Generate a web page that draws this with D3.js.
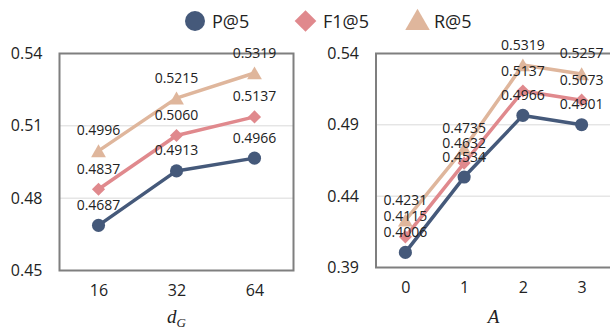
<!DOCTYPE html>
<html>
<head>
<meta charset="utf-8">
<script src="https://cdn.jsdelivr.net/npm/d3@7"></script>
<style>
  html, body { margin: 0; padding: 0; background: #fff; }
  svg { display: block; }
  text { font-family: "Open Sans", "Noto Sans", sans-serif; fill: #222; }
</style>
</head>
<body>
<svg id="chart" width="610" height="331"></svg>
<script>
// ---- data ----
const seriesNames = ["P@5", "F1@5", "R@5"];
const seriesColors = ["#45597a", "#e0898d", "#dfb69c"];

const leftCategories = ["16", "32", "64"];
const leftP  = [0.4687, 0.4913, 0.4966];
const leftF1 = [0.4837, 0.5060, 0.5137];
const leftR  = [0.4996, 0.5215, 0.5319];
const leftTicks = [0.45, 0.48, 0.51, 0.54];

const rightCategories = ["0", "1", "2", "3"];
const rightP  = [0.4006, 0.4534, 0.4966, 0.4901];
const rightF1 = [0.4115, 0.4632, 0.5137, 0.5073];
const rightR  = [0.4231, 0.4735, 0.5319, 0.5257];
const rightTicks = [0.39, 0.44, 0.49, 0.54];

const svg = d3.select("#chart");

function symbolFor(i, size) {
  const types = [d3.symbolCircle, d3.symbolDiamond2 || d3.symbolDiamond, d3.symbolTriangle];
  return d3.symbol().type(types[i]).size(size)();
}

function drawPanel(opts) {
  const { left, right, top, bottom, cats, series, ticks, titleMain, titleSub, clipRight } = opts;
  const g = svg.append("g");
  const x = d3.scalePoint().domain(cats).range([left, right]).padding(0.5);
  const y = d3.scaleLinear().domain([ticks[0], ticks[ticks.length - 1]]).range([bottom, top]);

  // gridlines
  g.append("g").selectAll("line").data(ticks.slice(1, -1)).join("line")
    .attr("x1", left).attr("x2", right)
    .attr("y1", d => y(d)).attr("y2", d => y(d))
    .attr("stroke", "#d9d9d9").attr("stroke-width", 1);

  // box
  g.append("rect")
    .attr("x", left).attr("y", top)
    .attr("width", (clipRight ? right + 4 : right) - left).attr("height", bottom - top)
    .attr("fill", "none").attr("stroke", "#7f7f7f").attr("stroke-width", 2);

  // y axis labels
  const yAxis = d3.axisLeft(y).tickValues(ticks).tickFormat(d3.format(".2f")).tickSize(0).tickPadding(17);
  const ya = g.append("g").attr("transform", `translate(${left},0)`).call(yAxis);
  ya.select(".domain").remove();
  ya.selectAll("text").attr("font-size", 16).attr("fill", "#222")
    .attr("font-family", "'Open Sans', sans-serif");

  // x axis labels
  const xAxis = d3.axisBottom(x).tickSize(0).tickPadding(14);
  const xa = g.append("g").attr("transform", `translate(0,${bottom})`).call(xAxis);
  xa.select(".domain").remove();
  xa.selectAll("text").attr("font-size", 16).attr("fill", "#222")
    .attr("font-family", "'Open Sans', sans-serif");

  // title
  const t = g.append("text")
    .attr("x", (left + right) / 2)
    .attr("y", 323)
    .attr("text-anchor", "middle")
    .style("font-family", "'Liberation Serif', 'DejaVu Serif', serif")
    .style("font-style", "italic")
    .attr("font-size", 19)
    .attr("fill", "#333");
  t.append("tspan").text(titleMain);
  if (titleSub) t.append("tspan").attr("font-size", 13).attr("dy", 4).text(titleSub);

  // series lines & markers
  const line = d3.line().x((d, i) => x(cats[i])).y(d => y(d));
  series.forEach((vals, si) => {
    g.append("path").datum(vals)
      .attr("d", line).attr("fill", "none")
      .attr("stroke", seriesColors[si]).attr("stroke-width", 3.5)
      .attr("stroke-linejoin", "round");
    const sizes = [135, 110, 95];
    g.append("g").selectAll("path").data(vals).join("path")
      .attr("transform", (d, i) => `translate(${x(cats[i])},${y(d) + (si === 2 ? 2 : 0)})`)
      .attr("d", symbolFor(si, sizes[si]))
      .attr("fill", seriesColors[si]);
  });
  // labels
  series.forEach((vals, si) => {
    g.append("g").selectAll("text").data(vals).join("text")
      .attr("x", (d, i) => x(cats[i]))
      .attr("y", d => y(d) - 15.5)
      .attr("text-anchor", "middle")
      .attr("font-size", 14)
      .attr("fill", "#222")
      .text(d => d3.format(".4f")(d));
  });
}

drawPanel({
  left: 59.5, right: 293.5, top: 53.5, bottom: 270.5,
  cats: leftCategories, series: [leftP, leftF1, leftR], ticks: leftTicks,
  titleMain: "d", titleSub: "G", clipRight: false
});
drawPanel({
  left: 376, right: 611, top: 53.5, bottom: 267.5,
  cats: rightCategories, series: [rightP, rightF1, rightR], ticks: rightTicks,
  titleMain: "A", titleSub: null, clipRight: true
});

// legend
const legendX = [195, 305.5, 417.5];
const legendTextX = [212, 323, 434];
const legendSizes = [314, 300, 260];
seriesNames.forEach((name, i) => {
  svg.append("path")
    .attr("transform", `translate(${legendX[i]},${21 + (i === 2 ? 2 : 0)})`)
    .attr("d", symbolFor(i, legendSizes[i]))
    .attr("fill", seriesColors[i]);
  svg.append("text")
    .attr("x", legendTextX[i]).attr("y", 28)
    .attr("font-size", 18).attr("fill", "#222")
    .text(name);
});
</script>
</body>
</html>
